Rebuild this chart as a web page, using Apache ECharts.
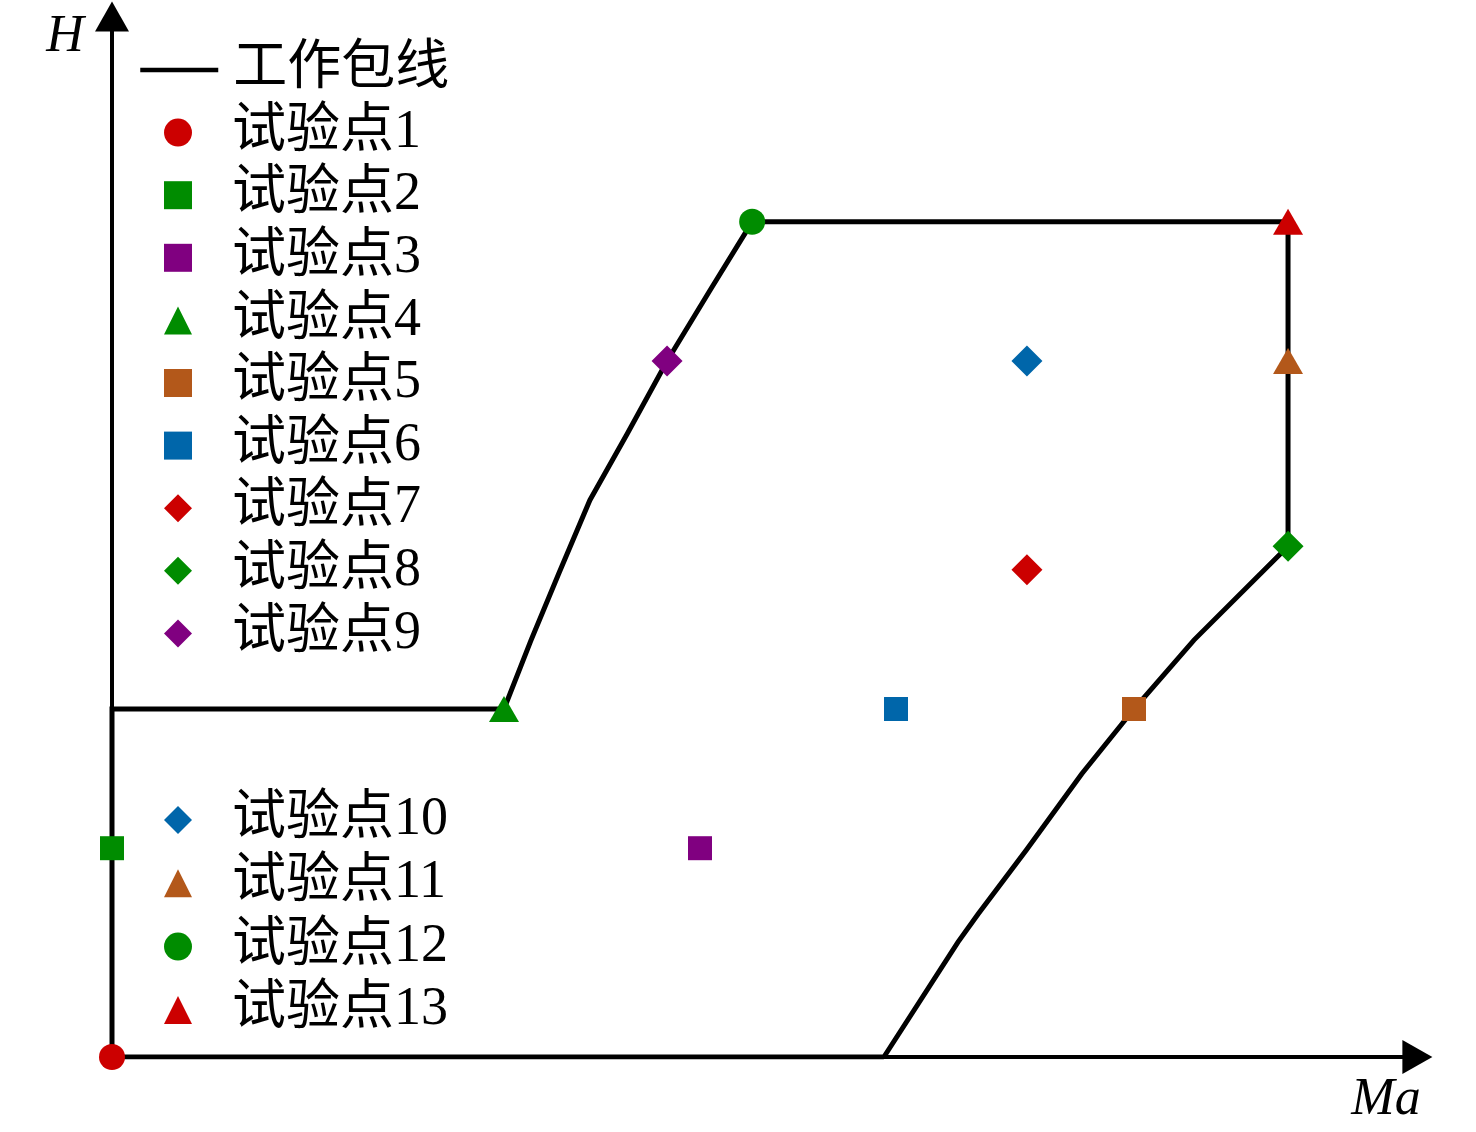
<!DOCTYPE html>
<html lang="zh-CN">
<head>
    <meta charset="UTF-8">
    <title>工作包线与试验点</title>
    <style>
        * { margin: 0; padding: 0; box-sizing: border-box; }
        html, body { background: #fff; }
        #chart { width: 1476px; height: 1132px; }
    </style>
</head>
<body>
    <div id="chart"></div>
    <script src="https://cdn.jsdelivr.net/npm/echarts@6/dist/echarts.min.js"></script>
    <script>
        // 工作包线 (Ma, H), 按连线顺序
        const envelopeMa = [1.969, 0, 0, 1.0, 1.069, 1.140, 1.219, 1.314, 1.416, 1.526, 1.633,
                            3.0, 3.0, 2.76, 2.607, 2.474, 2.332, 2.209, 2.158, 1.969];
        const envelopeH = [0, 0, 5, 5, 5.99, 6.95, 8.0, 8.95, 10.0, 11.02, 12.0,
                           12.0, 7.34, 5.99, 5.0, 4.07, 2.97, 2.05, 1.65, 0];

        // 试验点
        const pointNames = ['试验点1', '试验点2', '试验点3', '试验点4', '试验点5', '试验点6', '试验点7',
                            '试验点8', '试验点9', '试验点10', '试验点11', '试验点12', '试验点13'];
        const pointMa = [0, 0, 1.5, 1.0, 2.607, 2.0, 2.334, 3.0, 1.416, 2.334, 3.0, 1.633, 3.0];
        const pointH = [0, 3, 3, 5, 5, 5, 7, 7.34, 10, 10, 10, 12, 12];

        // 样式
        const RED = '#cc0000', GREEN = '#008c00', PURPLE = '#800080', BROWN = '#b3581a', BLUE = '#0066aa';
        const pointColors = [RED, GREEN, PURPLE, GREEN, BROWN, BLUE, RED, GREEN, PURPLE, BLUE, BROWN, GREEN, RED];
        const pointSymbols = ['circle', 'rect', 'rect', 'triangle', 'rect', 'rect', 'diamond',
                              'diamond', 'diamond', 'diamond', 'triangle', 'circle', 'triangle'];
        const symbolSizes = { circle: 26, rect: 24, triangle: [30, 26], diamond: 31 };

        const FONT = "'Liberation Serif', 'Noto Sans CJK SC', serif";
        const ENVELOPE = '工作包线';

        const series = [{
            name: ENVELOPE,
            type: 'line',
            data: envelopeMa.map((x, i) => [x, envelopeH[i]]),
            symbol: 'none',
            showSymbol: false,
            lineStyle: { color: '#000', width: 5, join: 'miter' },
            itemStyle: { color: '#000' },
            silent: true,
            z: 2
        }];
        pointNames.forEach((name, i) => {
            series.push({
                name: name,
                type: 'scatter',
                data: [[pointMa[i], pointH[i]]],
                symbol: pointSymbols[i],
                symbolSize: symbolSizes[pointSymbols[i]],
                symbolKeepAspect: true,
                itemStyle: { color: pointColors[i], opacity: 1 },
                clip: false,
                z: 3
            });
        });

        const legendText = {
            fontSize: 54,
            lineHeight: 54,
            fontFamily: FONT,
            color: '#000'
        };
        const pointLegend = {
            orient: 'vertical',
            left: 164,
            padding: 0,
            itemWidth: 28,
            itemHeight: 28,
            itemGap: 8.6,
            selectedMode: false,
            textStyle: Object.assign({ padding: [0, 0, 0, 35] }, legendText)
        };

        const chart = echarts.init(document.getElementById('chart'));
        chart.setOption({
            animation: false,
            backgroundColor: '#fff',
            grid: { left: 112, right: 58.6, top: 16.5, bottom: 75, outerBoundsMode: 'none' },
            xAxis: {
                type: 'value', min: 0, max: 3.33,
                axisLine: { onZero: true, symbol: ['none', 'triangle'], symbolSize: [34, 30],
                            lineStyle: { color: '#000', width: 4 } },
                axisTick: { show: false }, axisLabel: { show: false }, splitLine: { show: false }
            },
            yAxis: {
                type: 'value', min: 0, max: 14.95,
                axisLine: { onZero: true, symbol: ['none', 'triangle'], symbolSize: [34, 30],
                            lineStyle: { color: '#000', width: 4 } },
                axisTick: { show: false }, axisLabel: { show: false }, splitLine: { show: false }
            },
            legend: [
                {
                    orient: 'vertical',
                    left: 138,
                    top: 43,
                    padding: 0,
                    itemWidth: 78,
                    itemHeight: 28,
                    selectedMode: false,
                    textStyle: Object.assign({ padding: [0, 0, 0, 10] }, legendText),
                    data: [{ name: ENVELOPE, itemStyle: { opacity: 0 }, lineStyle: { width: 4.5, color: '#000' } }]
                },
                Object.assign({}, pointLegend, { top: 105.6, data: pointNames.slice(0, 9) }),
                Object.assign({}, pointLegend, { top: 793, itemGap: 9.3, data: pointNames.slice(9) })
            ],
            graphic: [
                { type: 'text', x: 65, y: 37, silent: true,
                  style: { text: 'H', font: 'italic 52px ' + FONT, fill: '#000', align: 'center', verticalAlign: 'middle' } },
                { type: 'text', x: 1386, y: 1100, silent: true,
                  style: { text: 'Ma', font: 'italic 52px ' + FONT, fill: '#000', align: 'center', verticalAlign: 'middle' } }
            ],
            series: series
        });
    </script>
</body>
</html>
